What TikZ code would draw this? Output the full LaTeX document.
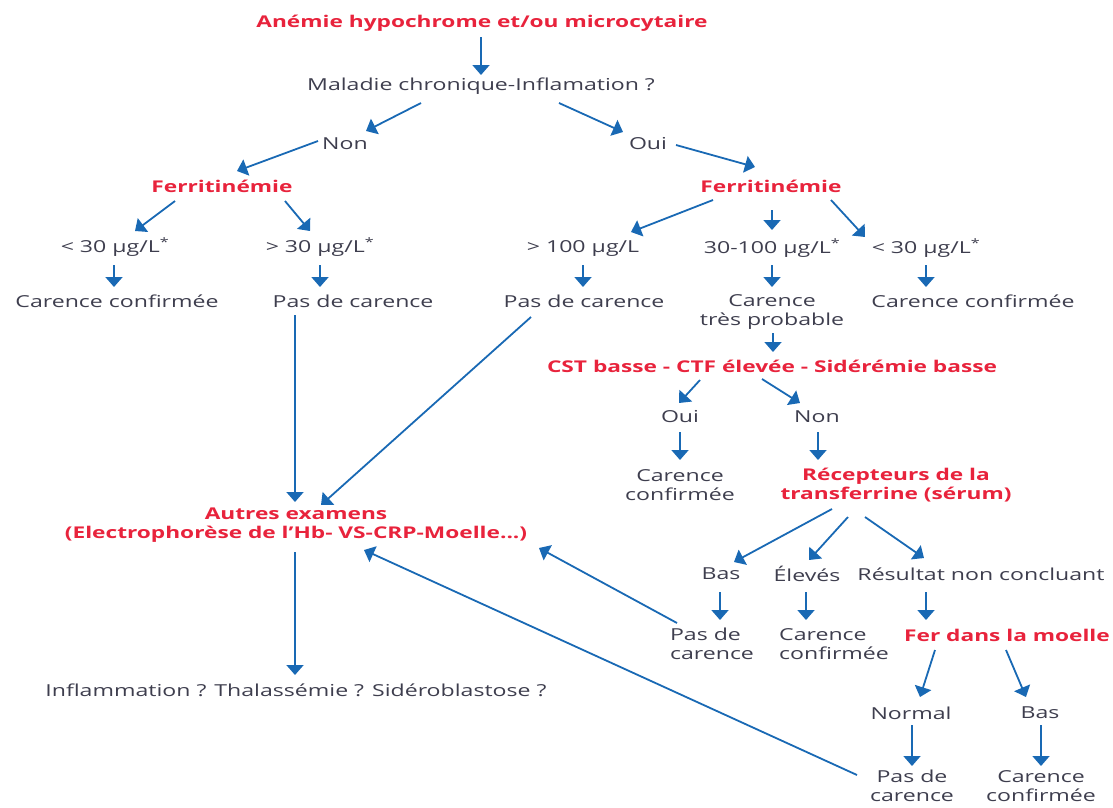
\documentclass[tikz,border=0pt]{standalone}
\usepackage{fontspec}
\setmainfont[FakeStretch=1.4]{Open Sans}
\usetikzlibrary{arrows.meta,calc}
\definecolor{rouge}{RGB}{232,35,60}
\definecolor{bleu}{RGB}{25,105,180}
\definecolor{gris}{RGB}{62,62,78}

\begin{document}
\begin{tikzpicture}[x=1pt,y=-1pt,
  txt/.style={text=gris,inner sep=1pt,align=center,font=\fontsize{16.5}{19}\selectfont},
  rtxt/.style={txt,text=rouge,font=\fontsize{16.2}{19}\selectfont\bfseries},
  arr/.style={draw=bleu,line width=1.8pt,-{Triangle[width=17pt,length=10pt]}}]
\useasboundingbox (0,0) rectangle (1113,807);
% niveau haut
\node[rtxt] (titre) at (482,23) {Anémie hypochrome et/ou microcytaire};
\node[txt] (maladie) at (481,86) {Maladie chronique-Inflamation ?};
\node[txt] (non1) at (345,144) {Non};
\node[txt] (oui1) at (648,144) {Oui};
\node[rtxt] (ferr1) at (222,186) {Ferritinémie};
\node[rtxt] (ferr2) at (771,186) {Ferritinémie};
% seuils
\node[txt] (inf30a) at (115,247) {< 30 µg/L\textsuperscript{*}};
\node[txt] (sup30) at (320,247) {> 30 µg/L\textsuperscript{*}};
\node[txt] (sup100) at (583,248) {> 100 µg/L};
\node[txt] (entre) at (772,248) {30-100 µg/L\textsuperscript{*}};
\node[txt] (inf30b) at (926,248) {< 30 µg/L\textsuperscript{*}};
\node[txt] (cc1) at (117,301) {Carence confirmée};
\node[txt] (pdc1) at (353,301) {Pas de carence};
\node[txt] (pdc2) at (584,301) {Pas de carence};
\node[txt] (cprob) at (772,312) {Carence\\très probable};
\node[txt] (cc2) at (973,301) {Carence confirmée};
% bilan martial
\node[rtxt] (cst) at (772,366) {CST basse - CTF élevée - Sidérémie basse};
\node[txt] (oui2) at (680,417) {Oui};
\node[txt] (non2) at (817,417) {Non};
\node[txt] (cc3) at (680,485) {Carence\\confirmée};
\node[rtxt] (recep) at (896,485) {Récepteurs de la\\transferrine (sérum)};
\node[txt] (bas1) at (721,574) {Bas};
\node[txt] (eleves) at (807,574) {Élevés};
\node[txt] (nonconcl) at (981,574) {Résultat non concluant};
\node[txt,align=left] (pdc3) at (712,644) {Pas de\\carence};
\node[txt,align=left] (cc4) at (834,644) {Carence\\confirmée};
\node[rtxt] (moelle) at (1007,635) {Fer dans la moelle};
\node[txt] (normal) at (911,713) {Normal};
\node[txt] (bas2) at (1040,713) {Bas};
\node[txt] (pdc4) at (912,786) {Pas de\\carence};
\node[txt] (cc5) at (1041,786) {Carence\\confirmée};
% autres examens
\node[rtxt] (autres) at (296,525) {Autres examens\\(Electrophorèse de l’Hb- VS-CRP-Moelle...)};
\node[txt] (infl) at (296,690) {Inflammation ? Thalassémie ? Sidéroblastose ?};

\draw[arr] ($(titre)+(-1,14)$) -- ($(maladie)+(0,-11)$);
\draw[arr] ($(maladie)+(-60,17)$) -- ($(non1)+(21,-13)$);
\draw[arr] ($(maladie)+(78,17)$) -- ($(oui1)+(-25,-12)$);
\draw[arr] ($(non1)+(-27,-3)$) -- ($(ferr1)+(15,-15)$);
\draw[arr] ($(oui1)+(28,1)$) -- ($(ferr2)+(-16,-19)$);
\draw[arr] ($(ferr1)+(-47,15)$) -- ($(inf30a)+(20,-16)$);
\draw[arr] ($(ferr1)+(63,15)$) -- ($(sup30)+(-10,-16)$);
\draw[arr] ($(inf30a)+(-1,18)$) -- ($(cc1)+(-3,-14)$);
\draw[arr] ($(sup30)+(0,18)$) -- ($(pdc1)+(-33,-14)$);
\draw[arr] ($(ferr2)+(-58,14)$) -- ($(sup100)+(48,-16)$);
\draw[arr] ($(ferr2)+(1,24)$) -- ($(entre)+(0,-18)$);
\draw[arr] ($(ferr2)+(60,14)$) -- ($(inf30b)+(-61,-11)$);
\draw[arr] ($(sup100)+(0,17)$) -- ($(pdc2)+(-1,-14)$);
\draw[arr] ($(entre)+(0,17)$) -- ($(cprob)+(0,-25)$);
\draw[arr] ($(inf30b)+(0,17)$) -- ($(cc2)+(-47,-14)$);
\draw[arr] ($(pdc1)+(-58,14)$) -- ($(autres)+(-1,-23)$);
\draw[arr] ($(pdc2)+(-53,16)$) -- ($(autres)+(25,-20)$);
\draw[arr] ($(cprob)+(1,21)$) -- ($(cst)+(1,-14)$);
\draw[arr] ($(cst)+(-72,14)$) -- ($(oui2)+(-1,-14)$);
\draw[arr] ($(cst)+(-10,13)$) -- ($(non2)+(-17,-14)$);
\draw[arr] ($(oui2)+(0,15)$) -- ($(cc3)+(0,-25)$);
\draw[arr] ($(non2)+(1,15)$) -- ($(recep)+(-78,-25)$);
\draw[arr] ($(recep)+(-64,24)$) -- ($(bas1)+(13,-12)$);
\draw[arr] ($(recep)+(-48,32)$) -- ($(eleves)+(2,-14)$);
\draw[arr] ($(recep)+(-31,32)$) -- ($(nonconcl)+(-57,-16)$);
\draw[arr] ($(bas1)+(-1,18)$) -- ($(pdc3)+(8,-24)$);
\draw[arr] ($(eleves)+(-1,18)$) -- ($(cc4)+(-28,-24)$);
\draw[arr] ($(nonconcl)+(-55,18)$) -- ($(moelle)+(-81,-15)$);
\draw[arr] ($(pdc3)+(-35,-21)$) -- ($(autres)+(243,23)$);
\draw[arr] ($(moelle)+(-72,15)$) -- ($(normal)+(9,-16)$);
\draw[arr] ($(moelle)+(-1,15)$) -- ($(bas2)+(-14,-16)$);
\draw[arr] ($(normal)+(1,12)$) -- ($(pdc4)+(0,-20)$);
\draw[arr] ($(bas2)+(1,12)$) -- ($(cc5)+(0,-20)$);
\draw[arr] ($(pdc4)+(-55,-11)$) -- ($(autres)+(68,25)$);
\draw[arr] ($(autres)+(-1,27)$) -- ($(infl)+(-1,-15)$);
\end{tikzpicture}
\end{document}
